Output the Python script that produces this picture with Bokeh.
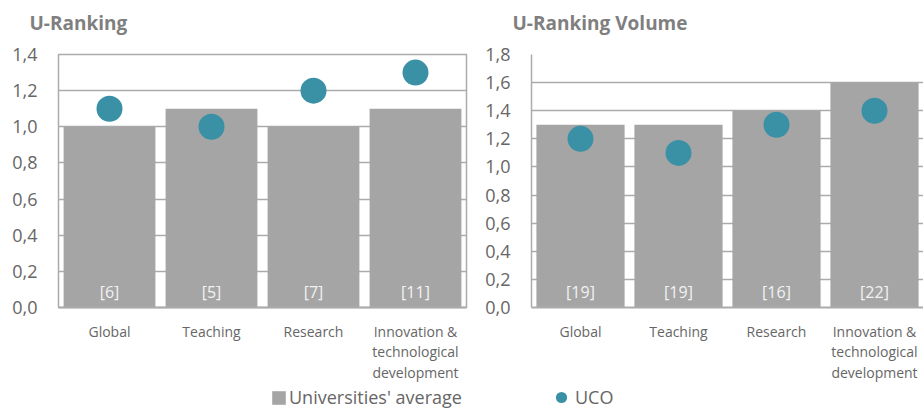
from bokeh.plotting import figure
from bokeh.layouts import column, row
from bokeh.models import (ColumnDataSource, Range1d, FixedTicker, CustomJSTickFormatter,
                          Legend, LegendItem, Title)
from bokeh.core.properties import value
from bokeh.embed import file_html
from bokeh.resources import INLINE

categories = ["Global", "Teaching", "Research", "Innovation &\ntechnological\ndevelopment"]

avg_rank = [1.0, 1.1, 1.0, 1.1]
uco_rank = [1.1, 1.0, 1.2, 1.3]
n_rank = ["[6]", "[5]", "[7]", "[11]"]

avg_vol = [1.3, 1.3, 1.4, 1.6]
uco_vol = [1.2, 1.1, 1.3, 1.4]
n_vol = ["[19]", "[19]", "[16]", "[22]"]

ticks_rank = [0.0, 0.2, 0.4, 0.6, 0.8, 1.0, 1.2, 1.4]
ticks_vol = [0.0, 0.2, 0.4, 0.6, 0.8, 1.0, 1.2, 1.4, 1.6, 1.8]

FONT = "Open Sans"
BAR = "#a5a5a5"
DOT = "#3a91a5"
GRID = "#ababab"
TXT = "#666666"
TITLE = "#7f7f7f"

fmt = CustomJSTickFormatter(code="return tick.toFixed(1).replace('.', ',');")


def make(title, avg, uco, nlab, ticks, width, mleft, mright, mtop, title_off, outline):
    src = ColumnDataSource(dict(cat=categories, avg=avg, uco=uco, lab=nlab, zero=[0] * len(avg)))
    p = figure(x_range=categories, y_range=Range1d(ticks[0], ticks[-1]),
               width=width, height=384, output_backend="svg", toolbar_location=None,
               min_border_left=mleft, min_border_right=mright, min_border_top=mtop,
               min_border_bottom=74)
    spacer = Title(text=" ", text_font_size="1px", standoff=14)
    t = Title(text=title, text_font=FONT, text_font_size="19px", text_font_style="bold",
              text_color=TITLE, align="left", offset=title_off, standoff=4)
    p.add_layout(spacer, "above")
    p.add_layout(t, "above")
    p.vbar(x="cat", top="avg", width=0.9, source=src, color=BAR, line_color=None)
    p.scatter(x="cat", y="uco", size=26, source=src, color=DOT, line_color=None)
    p.text(x="cat", y="zero", text="lab", source=src, y_offset=-16,
           text_align="center", text_baseline="middle", text_color="#f2f2f2",
           text_font=value(FONT), text_font_size="16px")
    p.xgrid.grid_line_color = None
    p.ygrid.grid_line_color = GRID
    p.ygrid.grid_line_width = 1.5
    p.yaxis.ticker = FixedTicker(ticks=ticks)
    p.yaxis.formatter = fmt
    p.yaxis.major_tick_line_color = None
    p.yaxis.minor_tick_line_color = None
    p.yaxis.major_label_standoff = 15
    p.yaxis.major_label_text_font = FONT
    p.yaxis.major_label_text_font_size = "18px"
    p.yaxis.major_label_text_color = TXT
    p.xaxis.major_tick_line_color = None
    p.xaxis.major_label_standoff = 8
    p.xaxis.major_label_text_font = FONT
    p.xaxis.major_label_text_font_size = "14px"
    p.xaxis.major_label_text_color = TXT
    p.xaxis.major_label_text_line_height = 1.08
    p.xaxis.axis_line_color = GRID
    p.xaxis.axis_line_width = 2
    if outline:
        p.outline_line_color = GRID
        p.outline_line_width = 1.5
        p.yaxis.axis_line_color = None
    else:
        p.outline_line_color = None
        p.yaxis.axis_line_color = GRID
        p.yaxis.axis_line_width = 1.5
    return p


p1 = make("U-Ranking", avg_rank, uco_rank, n_rank, ticks_rank, 478, 58, 12, 54, -29, True)
p2 = make("U-Ranking Volume", avg_vol, uco_vol, n_vol, ticks_vol, 445, 53, 0, 53, -19, False)

leg = figure(width=923, height=26, output_backend="svg", toolbar_location=None,
             min_border=0, x_range=Range1d(0, 1), y_range=Range1d(0, 1))
leg.axis.visible = False
leg.grid.visible = False
leg.outline_line_color = None
hidden = ColumnDataSource(dict(x=[-10], y=[-10]))
rb = leg.vbar(x="x", top="y", width=0.1, source=hidden, color=BAR, line_color=None)
rd = leg.scatter(x="x", y="y", source=hidden, size=13, color=DOT, line_color=None)

common = dict(orientation="horizontal", padding=0, margin=0, border_line_color=None,
              background_fill_alpha=0, label_text_font=FONT, label_text_font_size="18px",
              label_text_color=TXT, label_height=26)
legend1 = Legend(items=[LegendItem(label="Universities' average", renderers=[rb])],
                 location=(270, 0), glyph_width=17, glyph_height=17, label_standoff=2, **common)
legend2 = Legend(items=[LegendItem(label="UCO", renderers=[rd])],
                 location=(547, -1), glyph_width=28, glyph_height=28, label_standoff=0, **common)
leg.add_layout(legend1, "center")
leg.add_layout(legend2, "center")

layout = column(row(p1, p2), leg, spacing=0)
open("out.html", "w").write(file_html(layout, INLINE))
